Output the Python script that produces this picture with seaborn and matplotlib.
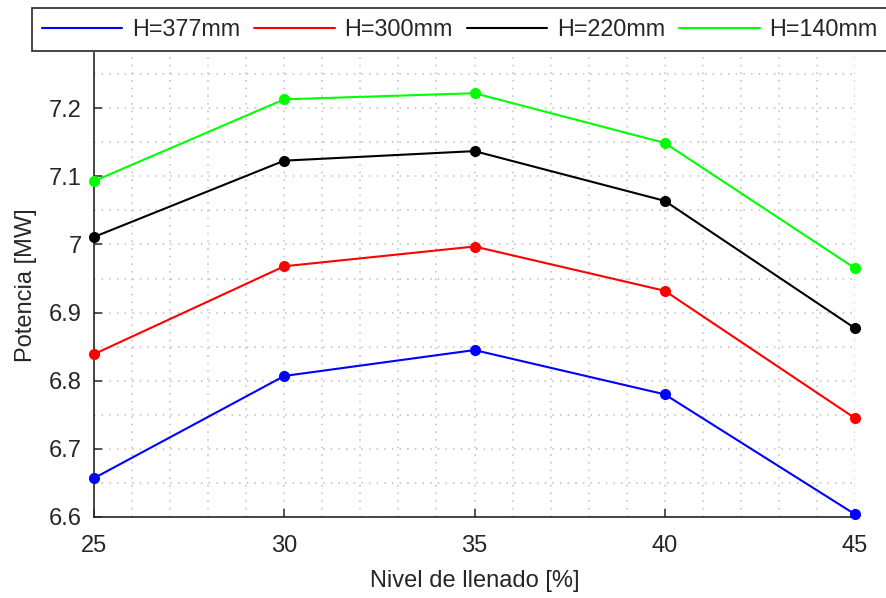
import matplotlib
matplotlib.use("Agg")
import matplotlib.pyplot as plt
from matplotlib.lines import Line2D
from matplotlib.ticker import MultipleLocator, FuncFormatter
import numpy as np
import pandas as pd
import seaborn as sns

# Filling level [%]
nivel = [25, 30, 35, 40, 45]

# Power [MW] for each head height
p_377 = [6.657, 6.807, 6.845, 6.780, 6.604]
p_300 = [6.839, 6.968, 6.997, 6.932, 6.745]
p_220 = [7.011, 7.123, 7.137, 7.064, 6.877]
p_140 = [7.093, 7.213, 7.222, 7.149, 6.965]

series_labels = ["H=377mm", "H=300mm", "H=220mm", "H=140mm"]
series_values = [p_377, p_300, p_220, p_140]
series_colors = ["#0000ff", "#ff0000", "#000000", "#00ff00"]

df = pd.DataFrame({
    "nivel": nivel * len(series_labels),
    "potencia": np.concatenate(series_values),
    "serie": np.repeat(series_labels, len(nivel)),
})

sns.set_style("ticks")
plt.rcParams["font.family"] = ["Liberation Sans", "DejaVu Sans"]
text_color = "#262626"
fs = 17
leg_fs = 16.8

fig = plt.figure(figsize=(8.86, 5.98), dpi=100)
ax = fig.add_axes([94 / 886, 1 - 517 / 598, (855 - 94) / 886, (517 - 53) / 598])

sns.lineplot(
    data=df, x="nivel", y="potencia", hue="serie",
    hue_order=series_labels, palette=series_colors,
    marker="o", markersize=8, markeredgewidth=0,
    linewidth=1.5, legend=False, ax=ax, zorder=3, clip_on=False,
)

ax.set_xlim(25, 45)
ax.set_ylim(6.6, 7.281)
ax.xaxis.set_major_locator(MultipleLocator(5))
ax.xaxis.set_minor_locator(MultipleLocator(1))
ax.yaxis.set_major_locator(MultipleLocator(0.1))
ax.yaxis.set_minor_locator(MultipleLocator(0.05))
ax.yaxis.set_major_formatter(FuncFormatter(lambda v, _: f"{v:g}"))

grid_kw = dict(color="#bdbdbd", linestyle=(0, (1, 4)), linewidth=1.1)
ax.grid(True, which="major", **grid_kw)
ax.grid(True, which="minor", **grid_kw)
ax.set_axisbelow(True)

ax.tick_params(which="major", direction="in", length=6, width=1.1,
               colors=text_color, labelsize=fs, pad=9)
ax.tick_params(axis="x", which="major", pad=13)
ax.tick_params(which="minor", length=0)

for side in ["top", "right"]:
    ax.spines[side].set_visible(False)
for side in ["left", "bottom"]:
    ax.spines[side].set_color(text_color)
    ax.spines[side].set_linewidth(1.2)

ax.set_xlabel("Nivel de llenado [%]", fontsize=fs, color=text_color, labelpad=9)
ax.set_ylabel("Potencia [MW]", fontsize=fs, color=text_color, labelpad=8)

handles = [Line2D([], [], color=c, linewidth=1.5) for c in series_colors]
leg = fig.legend(
    handles, series_labels, loc="upper left",
    bbox_to_anchor=(32 / 886, 1 - 8 / 598), ncol=4,
    fontsize=leg_fs, frameon=True, fancybox=False, framealpha=1,
    edgecolor=text_color, borderpad=0.42, borderaxespad=0,
    handlelength=3.45, handletextpad=0.4, columnspacing=0.62,
)
leg.get_frame().set_linewidth(1.2)
for t in leg.get_texts():
    t.set_color(text_color)

fig.savefig("out.png", dpi=100)
